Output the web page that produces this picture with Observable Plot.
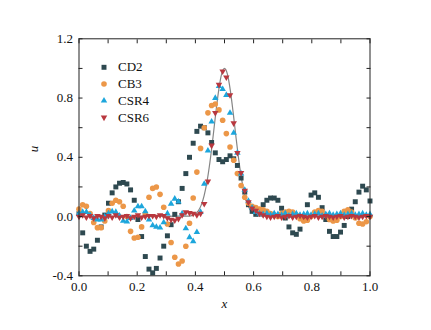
<!DOCTYPE html>
<html><head><meta charset="utf-8">
<script src="https://cdn.jsdelivr.net/npm/d3@7"></script>
<script src="https://cdn.jsdelivr.net/npm/@observablehq/plot@0.6"></script>
<style>body{margin:0;background:#fff}#chart{width:431px;height:330px}#chart svg, #chart svg text{font-family:"Liberation Serif","Times New Roman",Times,serif !important}</style>
</head><body><div id="chart"></div>
<script>
const seriesNames = ["CD2", "CB3", "CSR4", "CSR6"];
const cd2 = [0.02,-0.11,-0.20,-0.235,-0.22,-0.16,-0.07,0.01,0.09,0.16,
 0.20,0.225,0.23,0.22,0.18,0.11,-0.02,-0.135,-0.27,-0.355,
 -0.38,-0.35,-0.28,-0.20,-0.13,-0.055,0.015,0.10,0.19,0.29,
 0.40,0.495,0.575,0.61,0.60,0.565,0.50,0.43,0.385,0.37,
 0.385,0.41,0.39,0.345,0.26,0.165,0.08,0.035,0.015,0.03,
 0.08,0.11,0.125,0.125,0.11,0.056,-0.01,-0.07,-0.11,-0.12,
 -0.085,-0.01,0.08,0.145,0.16,0.13,0.06,-0.02,-0.10,-0.135,
 -0.135,-0.105,-0.06,0.0,0.05,0.10,0.165,0.205,0.18,0.105];
const cb3 = [0.05,0.08,0.07,0.02,-0.04,-0.075,-0.075,-0.03,0.04,0.09,
 0.11,0.10,0.07,0.0,-0.10,-0.145,-0.14,-0.07,0.02,0.13,
 0.19,0.20,0.15,0.063,-0.05,-0.175,-0.275,-0.32,-0.30,-0.20,
 -0.045,0.125,0.30,0.46,0.60,0.70,0.75,0.76,0.72,0.65,
 0.56,0.47,0.38,0.29,0.21,0.13,0.09,0.07,0.06,0.05,
 0.045,0.035,0.02,0.01,0.0,0.02,0.03,0.035,0.03,0.01,
 -0.015,-0.03,-0.025,0.0,0.03,0.04,0.035,0.01,-0.02,-0.03,
 -0.025,0.0,0.035,0.045,0.03,-0.01,-0.045,-0.05,-0.035,0.0];
const csr4 = [0.02,0.03,0.03,0.01,-0.01,-0.02,-0.02,0.0,0.02,0.034,
 0.03,0.005,-0.03,-0.035,-0.01,0.04,0.068,0.068,0.035,-0.02,
 -0.06,-0.07,-0.075,-0.04,0.02,0.086,0.12,0.10,0.02,-0.08,
 -0.14,-0.167,-0.106,0.03,0.22,0.445,0.64,0.80,0.88,0.86,
 0.82,0.70,0.565,0.43,0.29,0.18,0.105,0.06,0.03,0.02,
 0.015,0.02,0.01,0.02,0.015,0.01,0.02,0.005,0.015,0.02,
 0.01,0.015,0.02,0.01,0.015,0.02,0.005,0.015,0.02,0.01,
 0.015,0.02,0.01,0.015,0.02,0.01,0.015,0.02,0.01,0.015];
const csr6 = [0.0,0.01,-0.005,0.005,-0.01,0.005,0.0,-0.01,0.005,-0.005,
 0.01,-0.005,0.0,0.005,-0.01,0.0,0.01,-0.005,0.0,0.005,
 0.005,0.0,0.01,0.005,-0.01,-0.02,-0.025,-0.015,0.01,0.03,
 0.025,0.02,0.01,0.02,0.086,0.237,0.48,0.70,0.89,0.98,
 0.94,0.82,0.63,0.43,0.295,0.175,0.097,0.056,0.04,0.02,
 0.01,0.0,-0.005,0.0,0.005,-0.005,0.0,0.005,-0.005,0.0,
 0.005,0.0,-0.005,0.0,0.005,-0.005,0.0,0.005,0.0,-0.005,
 0.0,0.005,-0.005,0.0,0.005,0.0,-0.005,0.0,0.005,0.0];
// exact solution (gray curve)
const exactX = [0,0.38,0.39,0.40,0.41,0.42,0.43,0.44,0.45,0.46,0.47,0.48,0.49,0.50,
  0.51,0.52,0.53,0.54,0.55,0.56,0.57,0.58,0.59,0.60,0.61,0.62,1];
const exactU = [0,0.003,0.008,0.018,0.039,0.077,0.141,0.237,0.368,0.527,0.698,0.852,0.961,1.0,
  0.961,0.852,0.698,0.527,0.368,0.237,0.141,0.077,0.039,0.018,0.008,0.003,0];
const xTicks = [0, 0.2, 0.4, 0.6, 0.8, 1.0];
const xMinor = [0, 0.1, 0.2, 0.3, 0.4, 0.5, 0.6, 0.7, 0.8, 0.9, 1.0];
const yTicks = [-0.4, 0, 0.4, 0.8, 1.2];
const yMinor = [-0.4, -0.2, 0, 0.2, 0.4, 0.6, 0.8, 1.0, 1.2];

const xGrid = d3.range(cd2.length).map(i => i / (cd2.length - 1));
const values = [cd2, cb3, csr4, csr6];
const colors = ["#2e4950", "#ec9748", "#1ca6dc", "#b9383f"];
const symbols = ["square", "circle", "triangle", "triangle"];
const rotates = [0, 0, 0, 180];
const radii = [2.8, 2.8, 2.4, 2.4];
const exact = exactX.map((x, i) => ({x, u: exactU[i]}));

const fmt = d => d.toFixed(1);
const font = '"Liberation Serif", "Times New Roman", Times, serif';
const marks = [];
marks.push(Plot.line(exact, {x: "x", y: "u", stroke: "#858585", strokeWidth: 1.2, curve: "monotone-x"}));
seriesNames.forEach((name, k) => {
  const rows = values[k].map((u, i) => ({x: xGrid[i], u}));
  marks.push(Plot.dot(rows, {x: "x", y: "u", symbol: symbols[k], fill: colors[k], r: radii[k], rotate: rotates[k]}));
});
// legend
seriesNames.forEach((name, k) => {
  marks.push(Plot.dot([name], {frameAnchor: "top-left", dx: 25, dy: 28.5 + 16.7 * k, symbol: symbols[k], fill: colors[k], r: radii[k], rotate: rotates[k]}));
  marks.push(Plot.text([name], {text: d => d, frameAnchor: "top-left", dx: 39, dy: 28.5 + 16.7 * k, textAnchor: "start", lineAnchor: "middle", fontSize: 13, fontFamily: font, fill: "#111"}));
});
// frame and inward ticks
marks.push(Plot.frame({stroke: "#222", strokeWidth: 1}));
marks.push(Plot.axisX(xMinor, {anchor: "bottom", tickSize: 4, insetBottom: 4, tickFormat: () => "", label: null, stroke: "#222"}));
marks.push(Plot.axisX(xMinor, {anchor: "top", tickSize: 4, insetTop: 4, tickFormat: () => "", label: null, stroke: "#222"}));
marks.push(Plot.axisY(yMinor, {anchor: "left", tickSize: 4, insetLeft: 4, tickFormat: () => "", label: null, stroke: "#222"}));
marks.push(Plot.axisY(yMinor, {anchor: "right", tickSize: 4, insetRight: 4, tickFormat: () => "", label: null, stroke: "#222"}));
marks.push(Plot.axisX(xTicks, {anchor: "bottom", tickSize: 0, tickPadding: 6, tickFormat: fmt, label: null, fontSize: 13, fontFamily: font, fill: "#111"}));
marks.push(Plot.axisY(yTicks, {anchor: "left", tickSize: 0, tickPadding: 6, tickFormat: fmt, label: null, fontSize: 13, fontFamily: font, fill: "#111"}));
marks.push(Plot.text(["x"], {text: d => d, frameAnchor: "bottom", dy: 32, fontStyle: "italic", fontSize: 13, fontFamily: font, fill: "#111"}));
marks.push(Plot.text(["u"], {text: d => d, frameAnchor: "left", dx: -45, dy: -5, rotate: -90, fontStyle: "italic", fontSize: 13, fontFamily: font, fill: "#111"}));

const chart = Plot.plot({
  width: 431, height: 330,
  marginLeft: 78.5, marginRight: 61.5, marginTop: 38.3, marginBottom: 54.7,
  x: {domain: [0, 1], axis: null},
  y: {domain: [-0.4, 1.2], axis: null},
  style: {fontFamily: font, fontSize: "13px", background: "#fff", color: "#111"},
  marks
});
document.getElementById("chart").appendChild(chart);
</script>
</body></html>
